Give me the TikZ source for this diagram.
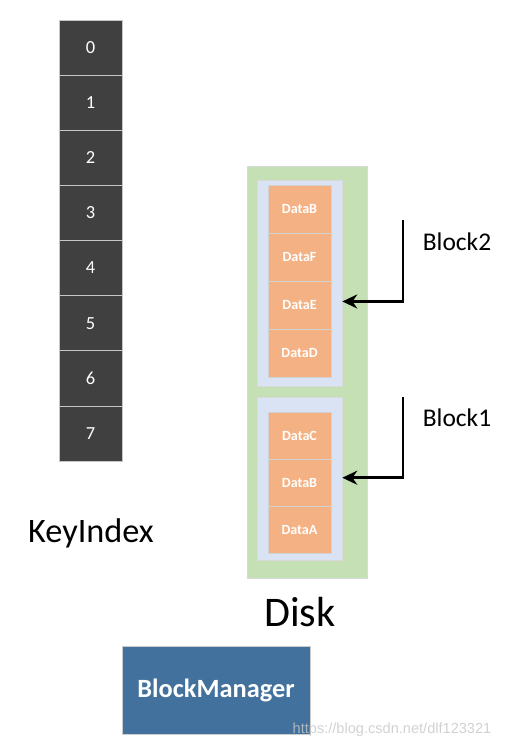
\documentclass[tikz,border=0pt]{standalone}
\usepackage{fontspec}
\setmainfont{Carlito}
\newfontfamily\wmfont{Liberation Sans}
\usetikzlibrary{arrows.meta, positioning}

\definecolor{keygray}{HTML}{404040}
\definecolor{diskgreen}{HTML}{C5E0B4}
\definecolor{blocklav}{HTML}{DAE3F3}
\definecolor{dataorange}{HTML}{F4B183}
\definecolor{bmblue}{HTML}{41719C}

\begin{document}
\begin{tikzpicture}[x=0.02cm, y=-0.02cm,
    keycell/.style={draw=gray!45, fill=keygray, text=white, minimum width=1.26cm,
        minimum height=1.1025cm, inner sep=0pt, font=\fontsize{10.5}{12}\selectfont},
    datacell/.style={draw=gray!35, fill=dataorange, text=white, minimum width=1.26cm,
        inner sep=0pt, font=\bfseries\fontsize{8}{9}\selectfont},
    blockbox/.style={draw=gray!30, fill=blocklav, minimum width=1.7cm, inner sep=0pt},
    blocklabel/.style={font=\fontsize{14.5}{17}\selectfont},
    ptr/.style={-{Stealth[length=8.5pt, width=8pt]}, line width=1.6pt}]
    \useasboundingbox (0,0) rectangle (510,749);

    % Key index column
    \foreach \i in {0,...,7}
        \node[keycell] (k\i) at (90.5,{20+55.125*(\i+0.5)}) {\i};
    \node[font=\fontsize{19.5}{23}\selectfont] (keyidx) at (91,533) {KeyIndex};

    % Disk with two blocks
    \node[draw=gray!30, fill=diskgreen, minimum width=2.4cm, minimum height=8.24cm,
        inner sep=0pt] (disk) at (307,372) {};
    \node[blockbox, minimum height=4.12cm] (blk2) at (299.5,283) {};
    \node[blockbox, minimum height=3.26cm] (blk1) at (299.5,478.5) {};

    % Block2 data
    \node[datacell, minimum height=0.96cm] (b2B) at (299.5,209) {DataB};
    \node[datacell, minimum height=0.96cm] (b2F) at (299.5,257) {DataF};
    \node[datacell, minimum height=0.96cm] (b2E) at (299.5,305) {DataE};
    \node[datacell, minimum height=0.96cm] (b2D) at (299.5,353) {DataD};

    % Block1 data
    \node[datacell, minimum height=0.94cm] (b1C) at (299.5,436) {DataC};
    \node[datacell, minimum height=0.94cm] (b1B) at (299.5,483) {DataB};
    \node[datacell, minimum height=0.94cm] (b1A) at (299.5,530) {DataA};

    \node[font=\fontsize{24}{28}\selectfont] (disklbl) at (300,612) {Disk};

    % Block pointers
    \node[blocklabel] (lbl2) at (457,242) {Block2};
    \node[blocklabel] (lbl1) at (457,418) {Block1};
    \coordinate (top2) at (403,220);
    \coordinate (top1) at (403,397);
    \draw[ptr] (top2) |- ([yshift=2pt]blk2.east |- b2E.center);
    \draw[ptr] (top1) |- ([yshift=3pt]blk1.east |- b1B.center);

    % Block manager
    \node[draw=gray!40, fill=bmblue, text=white, minimum width=3.76cm, minimum height=1.76cm,
        font=\bfseries\fontsize{15}{18}\selectfont] (bm) at (216,690) {BlockManager};

    \node[text=gray!45, opacity=0.8, font=\wmfont\fontsize{8.3}{10}\selectfont] (wm)
        at (392,730) {https://blog.csdn.net/dlf123321};
\end{tikzpicture}
\end{document}
